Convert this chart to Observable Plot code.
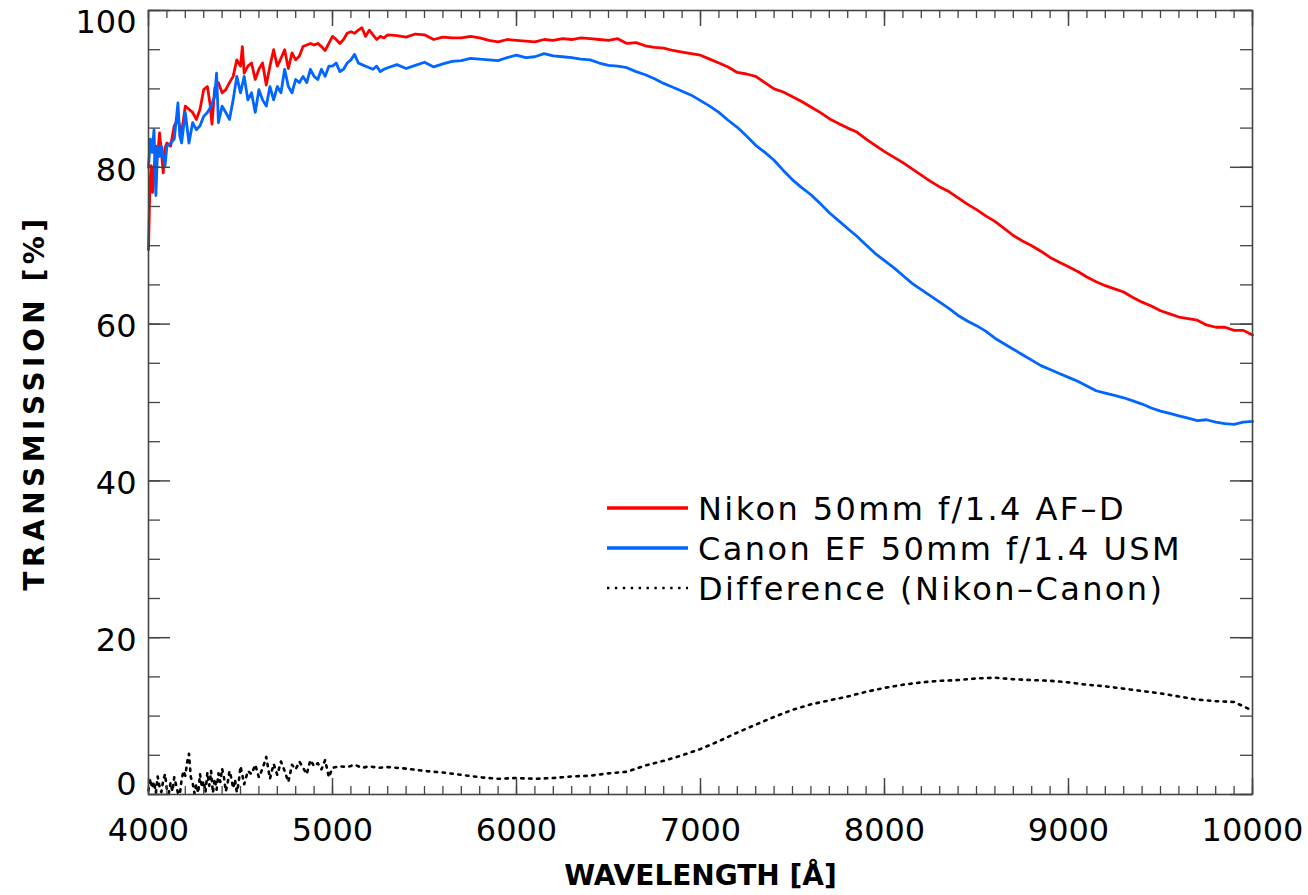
<!DOCTYPE html>
<html><head><meta charset="utf-8">
<script src="https://cdn.jsdelivr.net/npm/d3@7"></script>
<script src="https://cdn.jsdelivr.net/npm/@observablehq/plot@0.6"></script>
<style>
html,body{margin:0;padding:0;background:#fff;}
#chart{position:relative;width:1308px;height:895px;}
#legend{position:absolute;left:0;top:0;pointer-events:none;}
</style></head><body><div id="chart"></div>
<script>
// ---------- data ----------
const nikonWavelength = [4000,4008,4015,4022,4030,4040,4050,4060,4070,4080,4090,4100,4120,4140,4160,4180,4200,4220,4240,4260,4280,4300,4320,4335,4345,4360,4380,4400,4420,4440,4460,4480,4500,4510,4520,4540,4560,4580,4600,4620,4640,4660,4680,4700,4720,4740,4760,4780,4800,4820,4840,4860,4880,4900,4920,4940,4960,4980,5000,5020,5040,5060,5080,5100,5120,5140,5160,5180,5200,5220,5240,5260,5280,5300,5350,5400,5450,5500,5550,5600,5650,5700,5750,5800,5850,5900,5950,6000,6050,6100,6150,6200,6250,6300,6350,6400,6450,6500,6550,6600,6650,6700,6750,6800,6850,6900,6950,7000,7050,7100,7150,7200,7250,7300,7350,7400,7450,7500,7550,7600,7650,7700,7750,7800,7850,7900,7950,8000,8050,8100,8150,8200,8250,8300,8350,8400,8450,8500,8550,8600,8650,8700,8750,8800,8850,8900,8950,9000,9050,9100,9150,9200,9250,9300,9350,9400,9450,9500,9550,9600,9650,9700,9750,9800,9850,9900,9950,10000];
const nikonTransmission = [69.5,78.0,80.2,76.8,79.5,82.7,81.5,84.4,82.0,79.3,82.5,83.1,82.7,85.3,86.1,84.4,87.8,87.4,87.0,86.1,87.4,89.9,90.3,88.0,85.5,90.1,90.8,89.5,89.9,90.8,91.6,93.7,92.9,95.4,92.0,92.9,93.3,91.2,92.5,93.3,90.5,92.9,95.0,92.9,93.9,95.0,92.6,94.6,93.7,94.2,95.4,95.6,95.8,95.6,95.8,95.4,94.9,95.8,96.7,96.3,95.8,96.3,97.1,97.3,97.1,97.5,97.8,96.7,97.5,96.9,96.3,96.7,96.5,96.9,96.8,96.6,97.0,96.9,96.3,96.6,96.5,96.5,96.7,96.5,96.2,96.0,96.3,96.2,96.1,96.0,96.3,96.2,96.4,96.3,96.5,96.4,96.3,96.2,96.4,95.8,95.9,95.5,95.3,95.2,94.9,94.7,94.5,94.3,93.8,93.3,92.8,92.1,91.9,91.6,90.8,90.0,89.6,89.0,88.4,87.7,87.0,86.2,85.6,85.0,84.5,83.6,82.8,82.0,81.3,80.6,79.8,79.0,78.2,77.5,76.9,76.1,75.3,74.6,73.8,73.1,72.2,71.3,70.6,70.0,69.3,68.5,67.9,67.3,66.7,66.0,65.4,64.9,64.5,64.1,63.4,62.8,62.3,61.7,61.3,60.9,60.7,60.5,59.9,59.6,59.6,59.2,59.2,58.6];

const canonWavelength = [4000,4010,4020,4030,4040,4050,4060,4070,4080,4090,4100,4120,4140,4160,4170,4180,4200,4220,4240,4260,4280,4300,4320,4340,4360,4370,4380,4400,4420,4440,4460,4480,4500,4520,4540,4560,4580,4600,4620,4640,4660,4680,4700,4720,4740,4760,4780,4800,4820,4840,4860,4880,4900,4920,4940,4960,4980,5000,5020,5040,5060,5080,5100,5120,5140,5160,5180,5200,5220,5240,5260,5280,5300,5350,5400,5450,5500,5550,5600,5650,5700,5750,5800,5850,5900,5950,6000,6050,6100,6150,6200,6250,6300,6350,6400,6450,6500,6550,6600,6650,6700,6750,6800,6850,6900,6950,7000,7050,7100,7150,7200,7250,7300,7350,7400,7450,7500,7550,7600,7650,7700,7750,7800,7850,7900,7950,8000,8050,8100,8150,8200,8250,8300,8350,8400,8450,8500,8550,8600,8650,8700,8750,8800,8850,8900,8950,9000,9050,9100,9150,9200,9250,9300,9350,9400,9450,9500,9550,9600,9650,9700,9750,9800,9850,9900,9950,10000];
const canonTransmission = [80.0,83.6,81.9,84.8,76.4,82.7,81.4,82.7,81.4,80.2,82.7,83.1,83.6,88.2,84.0,83.1,87.0,83.1,85.7,84.8,85.3,86.5,87.0,87.8,89.1,92.0,85.7,87.8,87.0,86.1,88.6,91.6,89.5,91.6,88.6,89.5,87.0,89.9,88.6,87.8,90.3,88.6,90.3,89.5,92.5,90.3,89.5,91.2,90.8,91.6,90.8,92.5,91.6,91.2,92.5,91.6,92.9,92.9,93.3,92.2,92.5,93.3,93.7,94.4,93.3,93.1,92.9,92.7,92.5,92.9,92.2,92.5,92.7,93.1,92.6,93.0,93.4,92.8,93.2,93.5,93.6,93.9,93.8,93.7,93.6,94.0,94.3,94.0,94.1,94.5,94.2,94.1,94.0,93.8,93.7,93.3,93.0,92.9,92.7,92.2,91.8,91.3,90.7,90.2,89.7,89.2,88.5,87.8,87.0,86.0,85.1,84.0,82.8,81.9,80.9,79.6,78.4,77.4,76.5,75.4,74.2,73.2,72.2,71.2,70.1,69.0,68.1,67.2,66.2,65.2,64.4,63.6,62.8,62.0,61.1,60.4,59.8,59.1,58.2,57.5,56.8,56.1,55.4,54.7,54.2,53.7,53.2,52.7,52.1,51.5,51.2,50.9,50.6,50.2,49.8,49.3,48.9,48.6,48.3,48.0,47.7,47.8,47.5,47.3,47.2,47.5,47.6];

const diffWavelength = [4000,4010,4020,4030,4040,4050,4060,4070,4080,4090,4100,4110,4120,4130,4140,4150,4160,4170,4180,4190,4200,4210,4220,4230,4240,4250,4260,4270,4280,4290,4300,4310,4320,4330,4340,4350,4360,4370,4380,4390,4400,4410,4420,4430,4440,4450,4460,4470,4480,4490,4500,4510,4520,4540,4560,4580,4600,4620,4640,4650,4660,4680,4700,4720,4740,4760,4780,4800,4820,4840,4860,4880,4900,4920,4940,4960,4980,5000,5040,5080,5120,5160,5200,5250,5300,5400,5500,5600,5700,5800,5900,6000,6100,6200,6300,6400,6500,6600,6700,6800,6900,7000,7100,7200,7300,7400,7500,7600,7700,7800,7900,8000,8100,8200,8300,8400,8500,8600,8700,8800,8900,9000,9100,9200,9300,9400,9500,9600,9700,9800,9900,10000];
const diffValue = [0.5,2.0,0.8,1.6,0.2,2.3,1.0,0.3,1.8,2.6,0.6,0.1,1.5,0.4,2.2,1.2,0.2,0.0,1.9,3.0,2.4,4.1,5.2,2.2,1.5,0.1,1.3,0.2,2.6,0.9,1.7,0.3,2.8,1.1,3.0,0.2,2.0,0.6,2.7,1.6,3.3,2.2,0.4,1.4,3.0,2.1,0.8,1.9,0.3,1.5,3.6,2.5,1.3,3.0,2.6,3.8,2.2,3.3,4.8,3.4,2.0,3.9,2.5,4.2,3.0,1.6,3.8,3.2,4.2,3.4,2.6,4.4,3.6,4.0,3.2,4.4,2.2,3.4,3.6,3.5,3.8,3.4,3.6,3.4,3.5,3.3,3.0,2.8,2.5,2.2,2.0,2.1,2.0,2.1,2.3,2.4,2.7,2.9,3.7,4.3,5.0,5.8,6.8,7.9,8.9,9.9,10.8,11.5,12.0,12.5,13.1,13.6,14.0,14.3,14.5,14.6,14.8,14.9,14.7,14.6,14.5,14.3,14.0,13.8,13.5,13.2,12.9,12.5,12.1,11.9,11.8,10.7];

const xTickLabels = [4000, 5000, 6000, 7000, 8000, 9000, 10000];
const yTickLabels = [0, 20, 40, 60, 80, 100];
const xTitle = "WAVELENGTH [Å]";
const yTitle = "TRANSMISSION [%]";
const legendLabels = ["Nikon 50mm f/1.4 AF\u2013D", "Canon EF 50mm f/1.4 USM", "Difference (Nikon\u2013Canon)"];
const seriesColors = ["#ff0000", "#0066ff", "#000000"];

// ---------- layout ----------
const W = 1308, H = 895;
const mL = 148, mR = 56, mT = 10, mB = 101;
const innerW = W - mL - mR, innerH = H - mT - mB;
const axisColor = "#444";
const font = "DejaVu Sans";

const toRows = (ws, vs) => ws.map((w, i) => ({w, v: vs[i]}));
const nikon = toRows(nikonWavelength, nikonTransmission);
const canon = toRows(canonWavelength, canonTransmission);
const diff = toRows(diffWavelength, diffValue);

const xMinor = d3.range(4000, 10001, 100);
const yMinor = d3.range(0, 101, 5);
const fmt = d3.format("d");

const chart = Plot.plot({
  width: W, height: H,
  marginLeft: mL, marginRight: mR, marginTop: mT, marginBottom: mB,
  style: {fontFamily: font, background: "white", color: "black", overflow: "visible"},
  x: {type: "linear", domain: [4000, 10000], axis: null},
  y: {type: "linear", domain: [0, 100], axis: null},
  marks: [
    Plot.line(nikon, {x: "w", y: "v", stroke: seriesColors[0], strokeWidth: 2.8}),
    Plot.line(canon, {x: "w", y: "v", stroke: seriesColors[1], strokeWidth: 2.8}),
    Plot.line(diff, {x: "w", y: "v", stroke: seriesColors[2], strokeWidth: 2.6, strokeDasharray: "2.4,5.5"}),
    // inward ticks on all four sides
    Plot.tickX(xMinor, {x: d => d, insetTop: innerH - 8, stroke: axisColor, strokeWidth: 1.3}),
    Plot.tickX(xMinor, {x: d => d, insetBottom: innerH - 8, stroke: axisColor, strokeWidth: 1.3}),
    Plot.tickX(xTickLabels, {x: d => d, insetTop: innerH - 16, stroke: axisColor, strokeWidth: 1.5}),
    Plot.tickX(xTickLabels, {x: d => d, insetBottom: innerH - 16, stroke: axisColor, strokeWidth: 1.5}),
    Plot.tickY(yMinor, {y: d => d, insetRight: innerW - 12, stroke: axisColor, strokeWidth: 1.3}),
    Plot.tickY(yMinor, {y: d => d, insetLeft: innerW - 12, stroke: axisColor, strokeWidth: 1.3}),
    Plot.tickY(yTickLabels, {y: d => d, insetRight: innerW - 22, stroke: axisColor, strokeWidth: 1.5}),
    Plot.tickY(yTickLabels, {y: d => d, insetLeft: innerW - 22, stroke: axisColor, strokeWidth: 1.5}),
    Plot.frame({stroke: axisColor, strokeWidth: 1.6}),
    // tick labels
    Plot.axisX(xTickLabels, {anchor: "bottom", tickSize: 0, tickPadding: 24, tickFormat: fmt, fontSize: 32, label: null}),
    Plot.axisY(yTickLabels.filter(d => d > 0 && d < 100), {anchor: "left", tickSize: 0, tickPadding: 12, dy: 3, tickFormat: fmt, fontSize: 32, label: null}),
    Plot.axisY(yTickLabels.filter(d => d === 0), {anchor: "left", tickSize: 0, tickPadding: 12, dy: -10, tickFormat: fmt, fontSize: 32, label: null}),
    Plot.axisY(yTickLabels.filter(d => d === 100), {anchor: "left", tickSize: 0, tickPadding: 12, dy: 12, tickFormat: fmt, fontSize: 32, label: null}),
    // axis titles
    Plot.text([xTitle], {text: d => d, frameAnchor: "bottom", textAnchor: "middle", dy: 82, fontSize: 28, fontWeight: "bold", lineAnchor: "middle"}),
    Plot.text([yTitle], {text: d => d, frameAnchor: "left", textAnchor: "middle", dx: -113, rotate: -90, fontSize: 28, fontWeight: "bold", lineAnchor: "middle"})
  ]
});
document.getElementById("chart").appendChild(chart);
// wider letter spacing for the vertical title, like the reference's stroke font
d3.select(chart).selectAll("text").filter(function () { return this.textContent === yTitle; })
  .attr("letter-spacing", "4.5px");

// ---------- legend (inside plot area) ----------
const leg = d3.select("#chart").append("svg").attr("id", "legend")
  .attr("width", W).attr("height", H);
const lx0 = 607, lx1 = 688, ly0 = 508, lstep = 40;
legendLabels.forEach((lab, i) => {
  const y = ly0 + i * lstep;
  leg.append("line").attr("x1", lx0).attr("x2", lx1).attr("y1", y).attr("y2", y)
    .attr("stroke", seriesColors[i]).attr("stroke-width", i < 2 ? 3.4 : 2.6)
    .attr("stroke-dasharray", i === 2 ? "2.4,5.5" : null);
  leg.append("text").attr("x", lx1 + 10).attr("y", y).attr("dy", "0.36em")
    .attr("font-family", font).attr("font-size", 32).attr("letter-spacing", "2.4px")
    .attr("fill", "black").text(lab);
});
</script></body></html>
